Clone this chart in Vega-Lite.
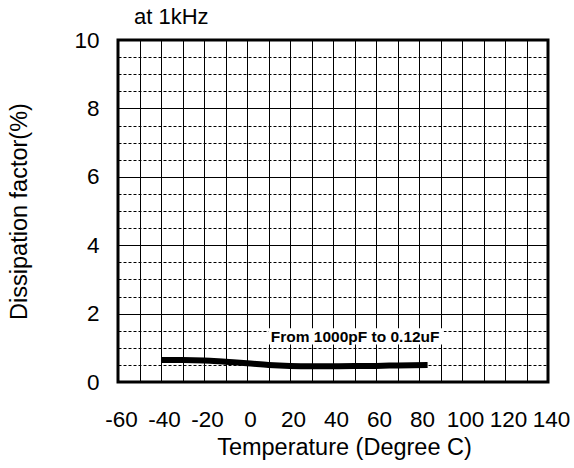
{
  "$schema": "https://vega.github.io/schema/vega-lite/v6.json",
  "autosize": "none",
  "width": 430,
  "height": 342,
  "padding": {"left": 118, "top": 40, "right": 26, "bottom": 86},
  "background": "white",
  "config": {
    "font": "Liberation Sans",
    "view": {"stroke": "black", "strokeWidth": 3},
    "axis": {
      "grid": true,
      "gridColor": "black",
      "gridOpacity": 1,
      "gridWidth": 1,
      "ticks": false,
      "tickSize": 0,
      "domain": false,
      "labelColor": "black",
      "labelFont": "Liberation Sans",
      "labelFontSize": 22.5,
      "labelOverlap": false,
      "labelFlush": false,
      "labelBound": false,
      "titleColor": "black",
      "titleFont": "Liberation Sans",
      "titleFontSize": 23.5,
      "titleFontWeight": "normal"
    }
  },
  "title": {
    "text": "at 1kHz",
    "anchor": "start",
    "frame": "group",
    "dx": 16,
    "dy": 22,
    "offset": 0,
    "baseline": "bottom",
    "fontSize": 22,
    "fontWeight": "normal",
    "font": "Liberation Sans",
    "color": "black"
  },
  "datasets": {
    "curve": [
      {"temp": -40, "df": 0.64},
      {"temp": -30, "df": 0.64},
      {"temp": -20, "df": 0.63},
      {"temp": -10, "df": 0.59},
      {"temp": 0, "df": 0.55},
      {"temp": 10, "df": 0.5},
      {"temp": 20, "df": 0.47},
      {"temp": 30, "df": 0.46},
      {"temp": 40, "df": 0.46},
      {"temp": 50, "df": 0.465},
      {"temp": 60, "df": 0.47},
      {"temp": 70, "df": 0.485},
      {"temp": 84, "df": 0.5}
    ],
    "note": [
      {"label": "From 1000pF to 0.12uF", "temp": 50.3, "df": 1.33, "x0": 10, "x1": 91.5, "y0": 1.1, "y1": 1.57}
    ]
  },
  "encoding": {
    "x": {
      "field": "temp",
      "type": "quantitative",
      "scale": {"domain": [-60, 140], "nice": false, "zero": false},
      "axis": {
        "values": [-60, -50, -40, -30, -20, -10, 0, 10, 20, 30, 40, 50, 60, 70, 80, 90, 100, 110, 120, 130, 140],
        "labelExpr": "datum.value % 20 === 0 ? replace(format(datum.value, 'd'), '−', '-') : ''",
        "labelPadding": 26,
        "labelOffset": 3,
        "title": "Temperature (Degree C)",
        "titleX": 226,
        "titleY": 72,
        "titleBaseline": "alphabetic",
        "titleAnchor": "middle"
      }
    },
    "y": {
      "field": "df",
      "type": "quantitative",
      "scale": {"domain": [0, 10], "nice": false},
      "axis": {
        "values": [0, 0.5, 1, 1.5, 2, 2.5, 3, 3.5, 4, 4.5, 5, 5.5, 6, 6.5, 7, 7.5, 8, 8.5, 9, 9.5, 10],
        "labelExpr": "datum.value % 2 === 0 ? format(datum.value, 'd') : ''",
        "gridDash": {"condition": {"test": "datum.value % 2 === 0", "value": []}, "value": [3, 2]},
        "labelPadding": 19,
        "title": "Dissipation factor(%)",
        "titleX": -92,
        "titleBaseline": "alphabetic",
        "titleAnchor": "middle"
      }
    }
  },
  "layer": [
    {
      "data": {"name": "note"},
      "mark": {"type": "rect", "color": "white", "opacity": 1},
      "encoding": {
        "x": {"field": "x0", "type": "quantitative"},
        "x2": {"field": "x1"},
        "y": {"field": "y0", "type": "quantitative"},
        "y2": {"field": "y1"}
      }
    },
    {
      "data": {"name": "note"},
      "mark": {"type": "text", "fontWeight": "bold", "fontSize": 15.5, "font": "Liberation Sans", "color": "black", "baseline": "middle", "align": "center"},
      "encoding": {
        "text": {"field": "label"}
      }
    },
    {
      "data": {"name": "curve"},
      "mark": {"type": "line", "color": "black", "strokeWidth": 6, "interpolate": "monotone", "strokeCap": "butt"},
      "encoding": {}
    }
  ]
}
